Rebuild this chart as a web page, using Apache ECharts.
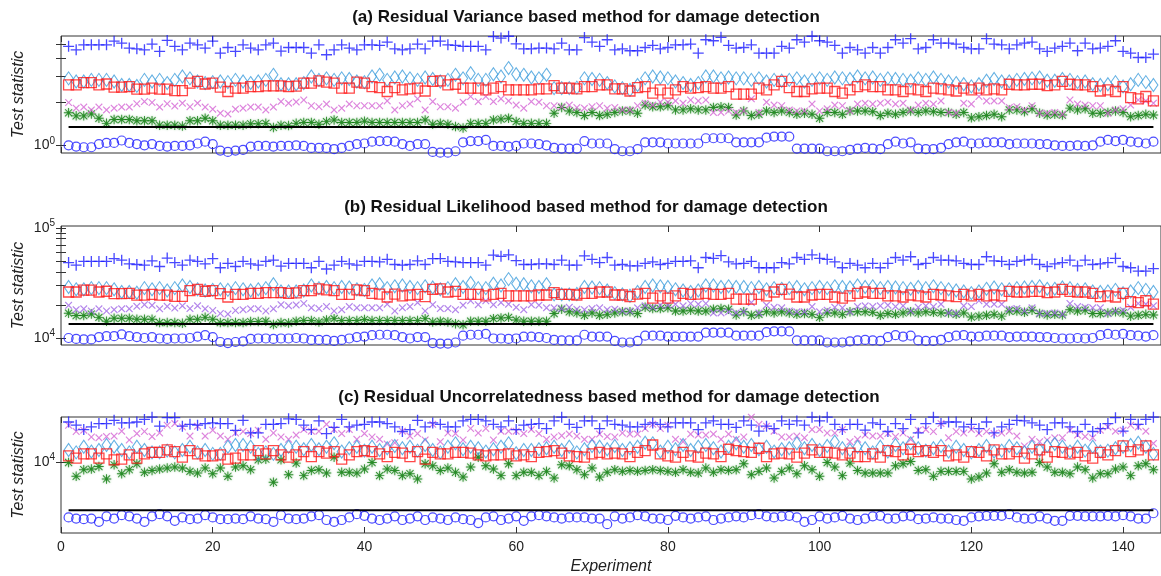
<!DOCTYPE html>
<html>
<head>
<meta charset="utf-8">
<script src="https://cdn.jsdelivr.net/npm/echarts@6.0.0/dist/echarts.min.js"></script>
<style>
  html, body { margin: 0; padding: 0; background: #fff; }
  #chart { width: 1161px; height: 576px; }
</style>
</head>
<body>
<div id="chart"></div>
<script>
// experiment numbers on the x axis
const experiments = Array.from({ length: 144 }, (_, k) => k + 1);
const xTicks = [0, 20, 40, 60, 80, 100, 120, 140];

// (a) residual variance
const aPlus = [4.85,4.59,4.97,4.97,4.97,4.97,5.27,5.1,4.72,4.66,4.59,5.03,4.47,5.33,4.85,4.59,5.1,4.97,4.72,5.27,4.35,4.76,4.47,4.97,4.72,4.59,4.97,5.1,4.5,4.76,
  4.76,4.76,4.35,4.97,4.24,4.59,4.97,4.72,4.59,4.97,4.97,4.92,5.19,4.66,4.59,4.66,5.03,4.66,5.27,5.27,4.97,4.92,4.85,4.85,4.85,4.59,5.67,5.53,5.7,5.05,4.66,4.66,4.72,4.72,4.66,5.1,4.59,4.59,
  5.58,5.19,4.85,5.39,4.59,4.66,4.52,4.52,4.76,4.92,4.66,4.76,4.97,4.97,5.03,4.35,5.39,5.3,5.6,4.92,4.72,4.76,4.97,4.35,4.35,4.35,4.85,4.72,5.39,5.19,5.7,5.3,5.19,4.92,4.35,4.76,4.59,
  4.35,4.76,4.35,4.76,5.39,5.1,5.48,4.66,4.76,5.39,5.1,5.1,5.03,4.76,4.66,4.66,5.48,5.03,4.97,4.66,4.97,5.1,5.19,4.66,4.47,4.72,4.85,5.1,4.52,5.1,4.66,4.72,4.85,5.3,4.47,4.35,4.06,4.06,4.28];
const aDiamond = [2.91,2.77,2.77,2.84,2.84,2.84,2.77,2.62,2.62,2.58,2.84,2.77,2.84,2.70,2.84,3.0,2.91,2.77,2.70,2.74,2.77,2.74,2.84,2.77,2.70,2.77,2.84,3.08,2.65,2.65,
  2.65,2.70,3.0,2.84,2.91,2.84,2.91,2.88,2.77,2.74,3.0,3.08,2.84,2.95,3.0,2.91,2.84,2.95,2.88,2.77,2.84,3.08,2.91,3.16,2.84,2.84,3.11,3.0,3.43,3.11,3.08,2.95,2.91,3.08,2.49,
  2.49,2.49,2.51,2.91,2.88,2.84,2.70,2.56,2.49,2.42,2.62,2.91,3.0,2.95,2.91,2.77,2.70,2.62,2.70,3.0,3.0,2.91,2.95,2.91,2.91,2.84,2.91,2.77,2.84,2.80,2.84,2.91,2.77,2.84,2.91,2.84,2.95,2.91,2.88,3.0,
  2.91,2.95,2.84,2.91,2.88,2.84,2.80,2.91,2.84,2.95,2.84,2.77,2.70,2.65,2.56,2.65,2.80,2.88,2.77,2.77,2.84,2.88,2.91,2.95,2.80,2.80,2.88,2.84,2.74,2.77,2.65,2.62,2.65,2.74,2.56,2.65,2.84,2.74,2.62];
const aSquare = [2.62,2.62,2.72,2.72,2.62,2.66,2.53,2.53,2.55,2.45,2.45,2.49,2.45,2.45,2.39,2.39,2.70,2.77,2.66,2.70,2.53,2.36,2.49,2.49,2.55,2.55,2.58,2.58,2.58,2.55,2.57,
  2.70,2.70,2.80,2.74,2.70,2.49,2.49,2.74,2.70,2.55,2.51,2.36,2.51,2.42,2.46,2.49,2.38,2.77,2.80,2.62,2.65,2.49,2.49,2.49,2.42,2.49,2.55,2.42,2.42,2.42,2.42,2.46,2.46,2.59,
  2.49,2.49,2.46,2.55,2.55,2.62,2.62,2.46,2.46,2.38,2.51,2.55,2.30,2.42,2.30,2.42,2.55,2.49,2.51,2.55,2.49,2.49,2.55,2.26,2.26,2.26,2.49,2.42,2.62,2.77,2.51,2.36,2.36,2.46,2.49,2.49,2.36,2.30,2.42,2.55,
  2.62,2.55,2.55,2.42,2.42,2.36,2.46,2.42,2.36,2.49,2.46,2.42,2.38,2.49,2.42,2.49,2.42,2.46,2.42,2.65,2.62,2.62,2.65,2.65,2.59,2.62,2.77,2.65,2.62,2.62,2.55,2.38,2.42,2.36,2.55,2.14,2.10,2.18,2.03];
const aCross = [1.98,1.81,1.84,1.76,1.84,1.76,1.81,1.84,1.84,1.94,2.01,1.98,1.84,1.94,1.87,1.96,1.85,1.96,1.84,1.78,1.67,1.65,1.78,1.81,1.84,1.84,1.76,1.84,2.01,1.96,2.0,
  2.06,1.88,1.85,1.93,1.76,1.81,1.93,1.88,1.88,1.88,1.88,2.03,1.76,1.88,1.93,2.10,1.76,2.01,1.85,1.85,1.81,1.99,2.18,2.01,2.18,2.01,2.10,2.03,1.90,1.81,2.01,1.99,1.88,1.88,
  1.85,1.90,1.83,1.81,1.85,1.88,1.81,1.83,1.76,1.76,1.88,1.96,1.90,1.99,1.99,2.03,1.96,2.06,2.03,2.06,1.69,1.69,1.73,1.69,1.73,2.10,1.69,1.99,1.90,1.88,1.76,1.73,1.73,1.93,1.73,1.79,1.90,1.88,1.73,1.93,
  1.96,1.93,1.96,1.99,1.93,1.96,1.76,1.90,1.96,1.93,2.03,1.69,1.67,1.96,1.93,2.18,2.03,2.03,2.03,1.83,1.85,1.76,1.88,1.67,1.67,1.69,1.64,2.06,1.93,1.90,1.88,1.88,1.67,1.76,1.79,1.90,2.06,2.03,1.96];
const aStar = [1.68,1.60,1.60,1.65,1.54,1.42,1.51,1.51,1.51,1.48,1.48,1.48,1.38,1.38,1.38,1.36,1.48,1.48,1.54,1.48,1.38,1.38,1.38,1.38,1.41,1.41,1.42,1.33,1.38,1.37,1.42,
  1.44,1.44,1.40,1.46,1.50,1.44,1.44,1.44,1.47,1.44,1.44,1.44,1.44,1.44,1.44,1.44,1.50,1.40,1.42,1.40,1.35,1.32,1.42,1.42,1.42,1.50,1.52,1.54,1.46,1.42,1.42,1.42,1.42,1.67,
  1.83,1.73,1.69,1.61,1.69,1.61,1.64,1.69,1.73,1.73,1.67,1.90,1.85,1.85,1.88,1.76,1.76,1.79,1.76,1.76,1.83,1.85,1.83,1.62,1.73,1.61,1.64,1.73,1.69,1.73,1.69,1.64,1.67,1.64,1.54,1.69,1.69,1.64,1.73,1.73,
  1.73,1.71,1.61,1.67,1.64,1.69,1.73,1.69,1.73,1.71,1.69,1.69,1.64,1.69,1.55,1.58,1.61,1.64,1.58,1.76,1.76,1.71,1.79,1.67,1.62,1.64,1.62,1.81,1.76,1.79,1.67,1.67,1.69,1.73,1.69,1.58,1.61,1.64,1.62];
const aCircle = [1.0,0.98,0.97,0.97,1.02,1.04,1.04,1.08,1.04,1.02,1.0,1.02,0.99,0.98,0.99,0.99,1.0,1.03,1.06,1.02,0.92,0.90,0.92,0.93,0.98,0.99,0.99,0.98,0.99,0.99,1.0,
  0.99,0.96,0.96,0.96,0.94,0.96,0.99,1.02,1.03,1.06,1.07,1.07,1.06,1.02,0.99,1.02,1.02,0.90,0.89,0.89,0.91,1.05,1.07,1.07,1.09,0.99,0.99,0.98,0.99,1.03,1.03,1.02,1.0,0.96,
  0.95,0.95,0.95,1.07,1.03,1.03,1.03,0.94,0.91,0.91,0.94,1.05,1.05,1.05,1.03,1.03,1.03,1.03,1.03,1.12,1.12,1.12,1.12,1.05,1.05,1.05,1.05,1.13,1.15,1.15,1.15,0.95,0.95,0.95,0.95,0.91,0.91,0.91,0.93,0.95,
  0.96,0.95,0.94,1.02,1.06,1.03,1.05,0.95,0.94,0.94,0.96,1.02,1.05,1.06,1.03,1.03,1.05,1.05,1.05,1.02,1.03,1.03,1.03,1.02,1.02,1.0,0.99,0.99,1.0,0.99,1.0,1.06,1.09,1.07,1.09,1.06,1.05,1.03,1.06];
const aThreshold = 1.34;

// (b) residual likelihood
const bPlus = [48500,45900,49700,49700,49700,49700,52700,51000,47200,46600,45900,50300,44700,53300,48500,45900,51000,49700,47200,52700,43500,47600,44700,49700,47200,45900,49700,51000,45000,47600,
  47600,47600,43500,49700,42400,45900,49700,47200,45900,49700,49700,49200,51900,46600,45900,46600,50300,46600,52700,52700,49700,49200,48500,48500,48500,45900,56700,55300,57000,50500,46600,46600,47200,47200,46600,51000,45900,45900,
  55800,51900,48500,53900,45900,46600,45200,45200,47600,49200,46600,47600,49700,49700,50300,43500,53900,53000,56000,49200,47200,47600,49700,43500,43500,43500,48500,47200,53900,51900,57000,53000,51900,49200,43500,47600,45900,
  43500,47600,43500,47600,53900,51000,54800,46600,47600,53900,51000,51000,50300,47600,46600,46600,54800,50300,49700,46600,49700,51000,51900,46600,44700,47200,48500,51000,45200,51000,46600,47200,48500,53000,44700,43500,40600,40600,42800];
const bDiamond = [29100,27700,27700,28400,28400,28400,27700,26200,26200,25800,28400,27700,28400,27000,28400,30000,29100,27700,27000,27400,27700,27400,28400,27700,27000,27700,28400,30800,26500,26500,
  26500,27000,30000,28400,29100,28400,29100,28800,27700,27400,30000,30800,28400,29500,30000,29100,28400,29500,28800,27700,28400,30800,29100,31600,28400,28400,31100,30000,34300,31100,30800,29500,29100,30800,24900,
  24900,24900,25100,29100,28800,28400,27000,25600,24900,24200,26200,29100,30000,29500,29100,27700,27000,26200,27000,30000,30000,29100,29500,29100,29100,28400,29100,27700,28400,28000,28400,29100,27700,28400,29100,28400,29500,29100,28800,30000,
  29100,29500,28400,29100,28800,28400,28000,29100,28400,29500,28400,27700,27000,26500,25600,26500,28000,28800,27700,27700,28400,28800,29100,29500,28000,28000,28800,28400,27400,27700,26500,26200,26500,27400,25600,26500,28400,27400,26200];
const bSquare = [26200,26200,27200,27200,26200,26600,25300,25300,25500,24500,24500,24900,24500,24500,23900,23900,27000,27700,26600,27000,25300,23600,24900,24900,25500,25500,25800,25800,25800,25500,25700,
  27000,27000,28000,27400,27000,24900,24900,27400,27000,25500,25100,23600,25100,24200,24600,24900,23800,27700,28000,26200,26500,24900,24900,24900,24200,24900,25500,24200,24200,24200,24200,24600,24600,25900,
  24900,24900,24600,25500,25500,26200,26200,24600,24600,23800,25100,25500,23000,24200,23000,24200,25500,24900,25100,25500,24900,24900,25500,22600,22600,22600,24900,24200,26200,27700,25100,23600,23600,24600,24900,24900,23600,23000,24200,25500,
  26200,25500,25500,24200,24200,23600,24600,24200,23600,24900,24600,24200,23800,24900,24200,24900,24200,24600,24200,26500,26200,26200,26500,26500,25900,26200,27700,26500,26200,26200,25500,23800,24200,23600,25500,21400,21000,21800,20300];
const bCross = [19800,18100,18400,17600,18400,17600,18100,18400,18400,19400,20100,19800,18400,19400,18700,19600,18500,19600,18400,17800,16700,16500,17800,18100,18400,18400,17600,18400,20100,19600,20000,
  20600,18800,18500,19300,17600,18100,19300,18800,18800,18800,18800,20300,17600,18800,19300,21000,17600,20100,18500,18500,18100,19900,21800,20100,21800,20100,21000,20300,19000,18100,20100,19900,18800,18800,
  18500,19000,18300,18100,18500,18800,18100,18300,17600,17600,18800,19600,19000,19900,19900,20300,19600,20600,20300,20600,16900,16900,17300,16900,17300,21000,16900,19900,19000,18800,17600,17300,17300,19300,17300,17900,19000,18800,17300,19300,
  19600,19300,19600,19900,19300,19600,17600,19000,19600,19300,20300,16900,16700,19600,19300,21800,20300,20300,20300,18300,18500,17600,18800,16700,16700,16900,16400,20600,19300,19000,18800,18800,16700,17600,17900,19000,20600,20300,19600];
const bStar = [16800,16000,16000,16500,15400,14200,15100,15100,15100,14800,14800,14800,13800,13800,13800,13600,14800,14800,15400,14800,13800,13800,13800,13800,14100,14100,14200,13300,13800,13700,14200,
  14400,14400,14000,14600,15000,14400,14400,14400,14700,14400,14400,14400,14400,14400,14400,14400,15000,14000,14200,14000,13500,13200,14200,14200,14200,15000,15200,15400,14600,14200,14200,14200,14200,16700,
  18300,17300,16900,16100,16900,16100,16400,16900,17300,17300,16700,19000,18500,18500,18800,17600,17600,17900,17600,17600,18300,18500,18300,16200,17300,16100,16400,17300,16900,17300,16900,16400,16700,16400,15400,16900,16900,16400,17300,17300,
  17300,17100,16100,16700,16400,16900,17300,16900,17300,17100,16900,16900,16400,16900,15500,15800,16100,16400,15800,17600,17600,17100,17900,16700,16200,16400,16200,18100,17600,17900,16700,16700,16900,17300,16900,15800,16100,16400,16200];
const bCircle = [10000,9800,9700,9700,10200,10400,10400,10800,10400,10200,10000,10200,9900,9800,9900,9900,10000,10300,10600,10200,9200,9000,9200,9300,9800,9900,9900,9800,9900,9900,10000,
  9900,9600,9600,9600,9400,9600,9900,10200,10300,10600,10700,10700,10600,10200,9900,10200,10200,9000,8900,8900,9100,10500,10700,10700,10900,9900,9900,9800,9900,10300,10300,10200,10000,9600,
  9500,9500,9500,10700,10300,10300,10300,9400,9100,9100,9400,10500,10500,10500,10300,10300,10300,10300,10300,11200,11200,11200,11200,10500,10500,10500,10500,11300,11500,11500,11500,9500,9500,9500,9500,9100,9100,9100,9300,9500,
  9600,9500,9400,10200,10600,10300,10500,9500,9400,9400,9600,10200,10500,10600,10300,10300,10500,10500,10500,10200,10300,10300,10300,10200,10200,10000,9900,9900,10000,9900,10000,10600,10900,10700,10900,10600,10500,10300,10600];
const bThreshold = 13400;

// (c) residual uncorrelatedness
const cPlus = [18550,17650,16500,17200,18100,18100,19050,18300,18300,18550,19300,20000,17400,19850,19850,17400,17900,17650,18100,18300,18100,18100,16300,19050,15650,15650,17900,17900,18100,19500,19300,
  17650,16500,18870,15500,17050,19300,17200,17650,17900,18550,18550,18100,17200,16000,16500,19050,17200,18300,17900,17200,17200,18870,19300,19300,18870,17900,17200,18870,16500,17650,17900,18100,16760,18870,
  20000,17900,17050,18870,18870,16760,18870,17900,17650,17200,17200,17900,18300,17900,17200,18300,18300,18300,16500,18300,18870,17900,17900,17050,18870,17650,16100,17400,16760,18870,17900,18870,17650,20000,18870,20000,17900,16500,17900,17900,
  16340,18300,17900,16000,18100,16760,19300,15650,18100,20000,18100,18550,18550,17200,17900,16760,18550,15650,17200,17900,19050,18870,18300,17650,16500,18300,18300,17200,16000,17900,16000,16760,18100,19850,16100,19300,17900,19300,20000];
const cCross = [17650,16000,16340,14700,14500,14800,14910,16100,14020,15500,16000,14800,15650,17650,18100,17200,14910,17400,14910,16340,14910,14170,15650,16000,15500,16340,14170,15650,14700,14170,15140,
  16500,16100,16100,17900,16500,15500,16500,14170,15500,14700,14170,13180,13450,16100,14910,15500,14020,17900,13670,15650,15500,14020,16760,15650,16760,14020,16100,16100,16100,15500,16500,15500,14170,14700,
  15000,15370,14910,14170,14170,15370,14800,14700,15650,15370,15370,16760,17900,16760,17650,14170,13670,15370,15140,15140,15370,14170,15370,14170,14700,20000,17900,17400,16100,14700,14700,14910,14500,16500,16500,15650,15650,16500,13670,14170,
  15140,14910,14910,15500,14800,15650,14170,16340,16500,16000,18100,14500,16000,15650,16500,15500,16000,15500,15650,16100,14910,12790,14170,13670,14020,14500,14500,16340,15140,14800,14500,16340,17200,16100,16340,17650,17200,16100,13300];
const cDiamond = [12020,11580,12640,11720,12020,12980,12640,12020,11580,12640,12020,11580,11580,11900,11580,12020,12640,11580,12020,11310,11310,12640,12980,12980,12640,11310,11580,11310,12020,12640,12640,
  12150,12980,12150,12640,13320,11720,12340,12640,11900,12640,12020,12340,12790,12340,12640,11900,12980,12020,11580,12640,13320,12150,12640,12340,11720,12150,12640,13320,11430,12020,12020,12150,12340,12640,
  12020,12640,11580,12150,12790,12640,12150,12790,12020,12340,12640,13450,13320,11720,12640,12150,12980,12020,12640,12980,12340,11720,12640,13320,12640,12980,12150,12640,11720,12150,12340,13320,12340,12980,12020,12790,13670,12340,12020,12640,
  12340,11580,12640,11720,12980,12340,13320,12340,11900,12340,12790,11720,12640,12020,11580,12020,12790,11720,11900,12790,12340,11580,12640,12020,12790,13180,12640,11720,12640,11900,12640,11720,11900,12340,12640,12980,13450,12640,11310];
const cSquare = [10960,10580,11310,11310,10580,11310,10310,10420,11130,10580,11310,11580,11580,12020,11720,10740,11900,11310,10960,10960,11130,10420,10580,11130,11130,11900,11310,11900,11130,10740,11130,
  11720,10850,11720,11430,11720,10420,11130,11720,11900,11720,11310,10850,11580,11430,10850,11720,10420,11580,11310,11310,11580,11580,11430,11130,10960,11130,11130,11310,10960,11130,10850,11580,11720,11900,
  11430,10960,10850,10740,11310,11580,11310,11430,11310,10850,11580,11900,12980,11310,10960,10740,11580,10960,10740,11430,11310,10850,12150,11900,11720,11580,12340,10850,11310,11430,11310,10740,11430,12020,11580,11580,11430,11130,11430,10850,
  10850,11310,10740,11900,11720,11130,12150,11720,11900,11580,11900,10960,11130,10740,11720,11580,10960,12020,11310,11310,11720,10580,11310,12020,10740,11720,11580,11310,11580,10960,10580,11580,11130,11900,12790,11720,12020,12790,11130];
const cStar = [9890,7980,8845,8930,9300,7660,9550,8320,8845,9700,8490,8750,8930,9080,9220,9080,8620,8400,9080,8320,9080,7980,9220,9400,8845,10310,10420,7280,10310,8190,9800,
  8070,8750,8845,8400,10740,8490,8490,8400,8930,9890,8070,8930,8750,8070,8320,7660,9700,9400,8750,9080,8490,7900,9220,10740,9400,8930,8070,9700,8070,8490,8490,8070,8620,7780,
  9550,9400,8845,8190,9080,7900,8490,8845,8620,8750,8620,8750,8845,8750,8620,8490,8845,8490,8400,9080,8490,8845,8750,8845,9700,8190,8620,9080,7780,8620,9080,8320,9400,8845,7980,9890,9220,8070,9800,8750,
  8400,8400,8400,8400,9400,9700,10050,8750,8845,7980,8620,8620,8620,8620,7660,7900,8400,9700,8490,8845,8490,8400,8490,9890,9220,8490,8490,8320,9220,8845,7780,8320,8320,8930,9220,8070,9400,9700,8845];
const cCircle = [4220,4140,4105,4140,3940,4290,4140,4365,4290,4140,3940,4290,4434,4290,4000,4220,4105,4140,4365,4220,4105,4105,4140,4105,4290,4140,4105,3940,4365,4140,4105,
  4140,4290,4365,4050,3940,4050,4220,4434,4320,4140,4050,4140,4290,4050,4140,4290,4050,4220,4140,4050,4220,4105,4050,3860,4220,4290,4050,4140,4290,4000,4290,4365,4290,4220,
  4140,4220,4220,4220,4140,4140,3800,4290,4140,4220,4365,4290,4140,4140,4050,4320,4220,4140,4220,4290,4050,4140,4220,4290,4220,4365,4434,4290,4220,4290,4320,4220,3940,4050,4290,4140,4220,4320,4140,4050,
  4140,4290,4320,4140,4140,4290,4320,4105,4140,4220,4140,4140,4050,4000,4220,4290,4320,4320,4320,4434,4220,4140,4140,4290,4140,4000,4000,4320,4320,4290,4290,4290,4320,4290,4365,4290,4140,4140,4500];
const cThreshold = 4713;

// log axis tick marks / labels
const aTicks = [1, 2, 3, 4, 5], aLabels = [1];
const bTicks = [1e4, 2e4, 3e4, 4e4, 5e4, 6e4, 7e4, 8e4, 9e4, 1e5], bLabels = [1e4, 1e5];
const cTicks = [1e4], cLabels = [1e4];

const FONT = '"Liberation Sans", Arial, sans-serif';
const INK = '#222';

// marker shapes (MATLAB style)
const PLUS = 'path://M0,4.4H10V5.6H0Z M4.4,0H5.6V10H4.4Z';
const CROSS = 'path://M0,1.1L1.1,0L5,3.9L8.9,0L10,1.1L6.1,5L10,8.9L8.9,10L5,6.1L1.1,10L0,8.9L3.9,5Z';
const STAR = 'path://M4.5,0H5.5V10H4.5Z M0,4.5H10V5.5H0Z M1.6,0.9L9.1,8.4L8.4,9.1L0.9,1.6Z M8.4,0.9L9.1,1.6L1.6,9.1L0.9,8.4Z';

const panels = [
  {
    grid: { left: 61, top: 36, width: 1102, height: 117 },
    yMin: 0.885, yMax: 5.72, ticks: aTicks, labels: aLabels,
    title: '(a) Residual Variance based method for damage detection', titleX: 586, titleY: 9,
    data: { circle: aCircle, star: aStar, cross: aCross, diamond: aDiamond, square: aSquare, plus: aPlus },
    threshold: aThreshold, crossColor: '#d466d4'
  },
  {
    grid: { left: 61, top: 226, width: 1102, height: 119 },
    yMin: 8637, yMax: 104280, ticks: bTicks, labels: bLabels,
    title: '(b) Residual Likelihood based method for damage detection', titleX: 586, titleY: 199,
    data: { circle: bCircle, star: bStar, cross: bCross, diamond: bDiamond, square: bSquare, plus: bPlus },
    threshold: bThreshold, crossColor: '#a066e6'
  },
  {
    grid: { left: 61, top: 417, width: 1102, height: 117 },
    yMin: 3311, yMax: 20050, ticks: cTicks, labels: cLabels,
    title: '(c) Residual Uncorrelatedness based method for damage detection', titleX: 609, titleY: 389,
    data: { circle: cCircle, star: cStar, cross: cCross, diamond: cDiamond, square: cSquare, plus: cPlus },
    threshold: cThreshold, crossColor: '#d466d4'
  }
];

function pts(values) {
  return values.map((v, k) => [experiments[k], v]);
}

const hollow = (color, w) => ({ color: 'rgba(0,0,0,0)', borderColor: color, borderWidth: w });
const supLabel = {
  formatter: v => '{b|10}{s|' + Math.round(Math.log10(v)) + '}',
  rich: {
    b: { fontSize: 14, color: INK, fontFamily: FONT },
    s: { fontSize: 10, color: INK, fontFamily: FONT, padding: [0, 0, 9, 0] }
  }
};
const tickLine = { color: '#333', width: 1 };

const grid = [], xAxis = [], yAxis = [], series = [], title = [];

panels.forEach((p, g) => {
  grid.push(Object.assign({ show: true, borderColor: '#333', borderWidth: 1, backgroundColor: '#fff' }, p.grid));

  title.push({
    text: p.title, left: p.titleX, top: p.titleY, textAlign: 'center', padding: 0,
    textStyle: { fontSize: 17, fontWeight: 'bold', color: '#111', fontFamily: FONT }
  });

  // bottom + top x axes
  xAxis.push({
    type: 'value', gridIndex: g, min: 0, max: 145, position: 'bottom',
    axisLine: { show: false }, splitLine: { show: false },
    axisTick: { inside: true, length: 6, customValues: xTicks, lineStyle: tickLine },
    axisLabel: { show: g === 2, customValues: xTicks, margin: 7, fontSize: 14, color: INK, fontFamily: FONT },
    name: g === 2 ? 'Experiment' : '', nameLocation: 'middle', nameGap: 26, nameMoveOverlap: false,
    nameTextStyle: { fontStyle: 'italic', fontSize: 16, color: INK, fontFamily: FONT }
  });
  xAxis.push({
    type: 'value', gridIndex: g, min: 0, max: 145, position: 'top',
    axisLine: { show: false }, splitLine: { show: false },
    axisTick: { inside: true, length: 6, customValues: xTicks, lineStyle: tickLine },
    axisLabel: { show: false, customValues: xTicks }
  });

  // left + right log y axes
  yAxis.push({
    type: 'log', logBase: 10, gridIndex: g, min: p.yMin, max: p.yMax, position: 'left',
    axisLine: { show: false }, splitLine: { show: false }, minorTick: { show: false },
    axisTick: { inside: true, length: 5, customValues: p.ticks, lineStyle: tickLine },
    axisLabel: Object.assign({ customValues: p.labels, margin: 6 }, supLabel),
    name: 'Test statistic', nameLocation: 'middle', nameGap: 34, nameRotate: 90, nameMoveOverlap: false,
    nameTextStyle: { fontStyle: 'italic', fontSize: 16, color: INK, fontFamily: FONT }
  });
  yAxis.push({
    type: 'log', logBase: 10, gridIndex: g, min: p.yMin, max: p.yMax, position: 'right',
    axisLine: { show: false }, splitLine: { show: false }, minorTick: { show: false },
    axisTick: { inside: true, length: 5, customValues: p.ticks, lineStyle: tickLine },
    axisLabel: { show: false, customValues: p.labels }
  });

  const xi = 2 * g, yi = 2 * g;
  const sc = (values, symbol, size, itemStyle) => ({
    type: 'scatter', xAxisIndex: xi, yAxisIndex: yi, data: pts(values),
    symbol: symbol, symbolSize: size, itemStyle: itemStyle, clip: false, silent: true
  });

  series.push({
    type: 'line', xAxisIndex: xi, yAxisIndex: yi, silent: true, symbol: 'none',
    data: [[experiments[0], p.threshold], [experiments[experiments.length - 1], p.threshold]],
    lineStyle: { color: '#000', width: 2 }
  });
  series.push(sc(p.data.circle, 'circle', 9, hollow('#1f1fff', 1.2)));
  series.push(sc(p.data.star, STAR, 9.5, { color: '#0d7a0d', shadowBlur: 2, shadowColor: 'rgba(40,150,40,0.7)' }));
  series.push(sc(p.data.cross, CROSS, 7.5, { color: p.crossColor }));
  series.push(sc(p.data.diamond, 'diamond', [9, 13], hollow('#3f9ddc', 1.1)));
  series.push(sc(p.data.square, 'rect', 10, hollow('#ff1a1a', 1.3)));
  series.push(sc(p.data.plus, PLUS, 11, { color: '#1a1aff' }));
});

const chart = echarts.init(document.getElementById('chart'), null, { renderer: 'canvas' });
chart.setOption({
  animation: false,
  backgroundColor: '#fff',
  title: title,
  grid: grid,
  xAxis: xAxis,
  yAxis: yAxis,
  series: series
});
</script>
</body>
</html>
